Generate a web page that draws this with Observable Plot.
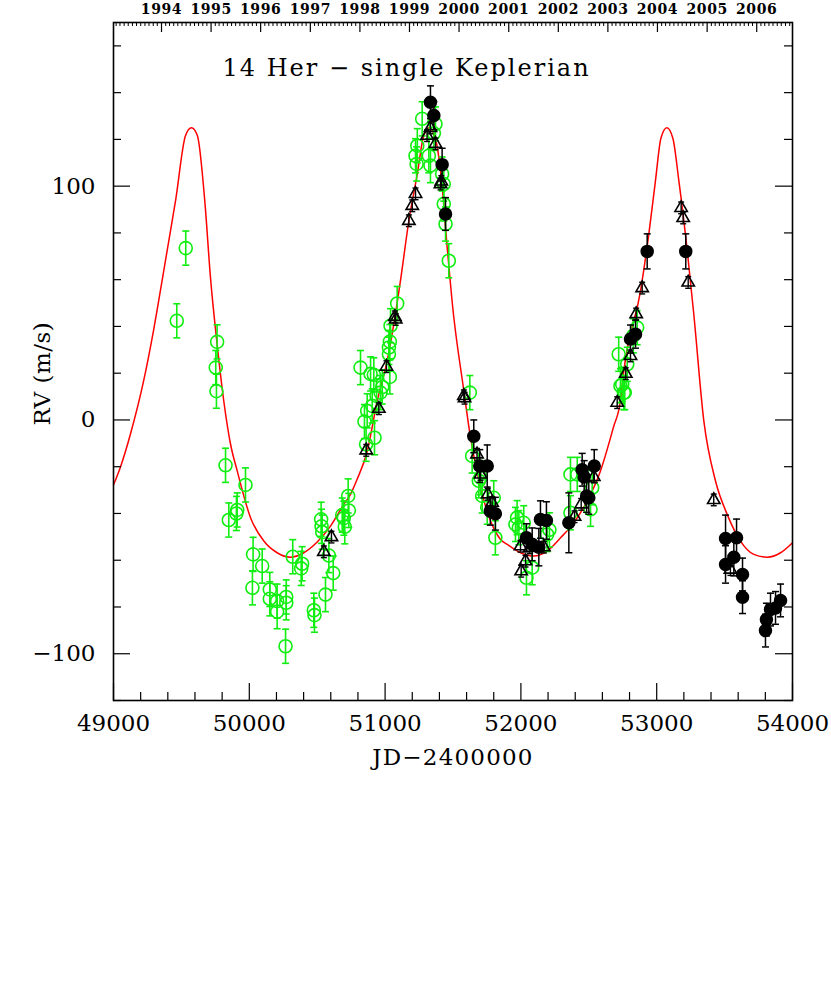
<!DOCTYPE html>
<html><head><meta charset="utf-8">
<script src="https://cdn.jsdelivr.net/npm/d3@7"></script>
<script src="https://cdn.jsdelivr.net/npm/@observablehq/plot@0.6"></script>
<style>body{margin:0;background:#fff}</style>
</head><body><div id="chart"></div>
<script>
// ---- data ----
const greenJD = [49466,49532,49753,49758,49763,49825,49849,49905,49911,49972,50023,50028,50095,50151,50151,50205,50205,50267,50272,50272,50320,50382,50389,50475,50480,50529,50532,50537,50561,50586,50618,50684,50696,50703,50728,50733,50819,50848,50860,50868,50893,50905,50917,50922,50937,50966,50979,51028,51028,51035,51035,51040,51089,51224,51232,51237,51273,51322,51334,51359,51371,51420,51432,51432,51445,51469,51624,51641,51690,51703,51715,51752,51800,51812,51960,51972,51985,52021,52041,52083,52193,52210,52365,52365,52415,52513,52525,52720,52733,52746,52758,52765,52783,52828,52856];
const greenRV = [42.4,73.5,22.4,12.3,33.4,-19.4,-42.8,-40,-38.5,-27.8,-71.8,-57.5,-62.5,-72.5,-76.5,-77.5,-82,-96.8,-75.7,-78.2,-58.5,-63.5,-61.5,-81.4,-83.5,-42.5,-45.5,-48,-74.7,-58,-65.5,-40.7,-42,-45.7,-32.5,-38.7,22.4,-0.7,-10.4,3.9,19.7,6,19.3,-7.6,10.3,11.7,14.1,28.1,31,33.5,18.4,40.3,49.8,113,109.5,117.3,128.8,113,108.8,122.6,126.6,105.2,100.9,92.4,83.8,68.1,11.7,-15.4,-26,-24.7,-32.5,-37.3,-33.3,-50.4,-44.7,-41.8,-46.1,-44,-67.5,-63.2,-49,-47,-23.3,-39.7,-23.3,-38.2,-29,28.1,14.6,15.2,11.7,11.7,23.8,36,39.5];
const greenErr = 7.3;

const triJD = [50549,50605,50861,50954,51010,51072,51078,51175,51200,51224,51309,51334,51371,51408,51414,51580,51585,51677,51703,51756,51788,51997,52002,52034,52066,52169,52395,52444,52537,52709,52772,52807,52849,52893,53180,53195,53232,53420,53543];
const triRV = [-56.4,-50.1,-13,4.8,22.8,44.1,43,85.2,91.6,96.7,121.6,124.9,118.1,100.9,102,10.3,9.3,-14.7,-23.3,-31.8,-35.4,-54,-64.7,-60.4,-54.7,-54.4,-41.4,-36.1,-24.4,7.4,19.8,27.4,45.3,56.4,90.7,86.4,58.8,-34.2,-64];
const triErr = 2.5;

const dotJD = [51334,51359,51420,51445,51653,51697,51752,51775,51812,52041,52083,52132,52144,52188,52353,52451,52466,52484,52500,52540,52807,52844,52930,53214,53507,53588,53568,53507,53632,53632,53801,53808,53838,53875,53912];
const dotRV = [135.9,130.2,109.2,88.1,-7,-19.7,-19.7,-39,-40.1,-50.4,-53.2,-54.4,-42.6,-43,-44,-21.3,-24.4,-32.5,-33.3,-19.7,34.6,36.7,72.1,72.1,-50.7,-50.4,-58.7,-61.8,-66.1,-75.8,-90.1,-85.4,-81.1,-80.4,-77.2];
const dotErr = [7,6,7,7,7,7,9,6,7,6,7,8,8,8,12.8,7,7,7,7,7,6,6,7.5,7.5,10,8,8,8,7,7,7,7,7,7,7];

// Keplerian model curve
const fitJD = [49000,49052,49125,49223,49297,49370,49420,49457,49530,49574,49618,49672,49714,49763,49812,49862,49911,50009,50107,50205,50303,50401,50500,50598,50696,50745,50794,50868,50942,51015,51064,51113,51175,51237,51280,51325,51370,51420,51457,51477,51493,51580,51629,51703,51777,51825,51850,51899,51997,52095,52193,52292,52389,52488,52586,52682,52733,52758,52881,52942,52991,53031,53075,53119,53163,53225,53273,53347,53433,53519,53617,53715,53814,53912,54000];
const fitRV = [-27.8,-20,-6,17,39,63.8,81,93.8,121.6,125,121.6,93.8,61,32.4,8.1,-10.4,-21.8,-41.8,-51.8,-56.8,-58.7,-56.8,-52.2,-45.4,-36.1,-31.8,-25.4,-13.5,8.1,25.3,41,59.5,85.2,105.2,120.5,125,120.5,100,73.8,61,51,12.4,-7.6,-29,-43.3,-49,-51.1,-53.2,-56.8,-58.2,-56.1,-50.4,-44,-34.7,-21.8,-3,8.1,21,55.2,79.5,102.4,120.5,125,120.5,102.4,72.4,45.3,-0.4,-26.1,-40.4,-51.8,-57.5,-58.7,-56.8,-52.5];

const xMajor = [49000,50000,51000,52000,53000,54000];
const yMajor = [-100,0,100];
const years = ["1994","1995","1996","1997","1998","1999","2000","2001","2002","2003","2004","2005","2006"];
const yearJD = [49353.5,49718.5,50083.5,50449.5,50814.5,51179.5,51544.5,51910.5,52275.5,52640.5,53005.5,53371.5,53736.5];
const titleText = "14 Her \u2212 single Keplerian";
const xTitle = "JD\u22122400000";
const yTitle = "RV (m/s)";

// ---- build ----
const green = greenJD.map((x,i)=>({x, y: greenRV[i], e: greenErr}));
const tri = triJD.map((x,i)=>({x, y: triRV[i], e: triErr}));
const dots = dotJD.map((x,i)=>({x, y: dotRV[i], e: dotErr[i]}));
const fit = fitJD.map((x,i)=>({x, y: fitRV[i]}));

const xMinor = d3.range(49000, 54001, 200).filter(v => !xMajor.includes(v));
const yMinor = d3.range(-120, 171, 20).filter(v => !yMajor.includes(v));
const monthTicks = [];
for (let yr = 1993; yr <= 2007; yr++) for (let m = 1; m < 12; m++) {
  const jd = Date.UTC(yr, m, 1) / 86400000 + 40587.5;
  if (jd > 49000 && jd < 54000) monthTicks.push(jd);
}

const W = 831, H = 990, mL = 113, mR = 39, mT = 22, mB = 290;
const fw = W - mL - mR, fh = H - mT - mB;
const GREEN = "#10ee10";
const cap = (w) => ({draw(ctx){ ctx.moveTo(-w,0); ctx.lineTo(w,0); }});
const minus = d => d < 0 ? "\u2212" + Math.abs(d) : String(d);

const errMarks = (data, color, w, sw) => [
  Plot.ruleX(data, {x:"x", y1: d=>d.y-d.e, y2: d=>d.y+d.e, stroke: color, strokeWidth: sw}),
  Plot.dot(data, {x:"x", y: d=>d.y+d.e, symbol: cap(w), r: 3, stroke: color, fill: "none", strokeWidth: sw}),
  Plot.dot(data, {x:"x", y: d=>d.y-d.e, symbol: cap(w), r: 3, stroke: color, fill: "none", strokeWidth: sw})
];

const chart = Plot.plot({
  width: W, height: H,
  marginLeft: mL, marginRight: mR, marginTop: mT, marginBottom: mB,
  x: {domain: [49000, 54000]},
  y: {domain: [-120, 170]},
  style: {fontFamily: "DejaVu Serif", background: "white", color: "black"},
  marks: [
    Plot.line(fit, {x:"x", y:"y", stroke: "red", strokeWidth: 1.5, curve: "monotone-x"}),
    ...errMarks(green, GREEN, 3.5, 1.6),
    Plot.dot(green, {x:"x", y:"y", r: 6.5, stroke: GREEN, strokeWidth: 1.6, fill: "none"}),
    ...errMarks(tri, "black", 3, 1.4),
    Plot.dot(tri, {x:"x", y:"y", symbol: "triangle", r: 4.6, stroke: "black", strokeWidth: 1.6, fill: "none"}),
    ...errMarks(dots, "black", 3.5, 1.5),
    Plot.dot(dots, {x:"x", y:"y", r: 6, fill: "black", stroke: "black"}),
    // ticks (inward)
    Plot.tickX(xMinor, {x: d=>d, insetTop: fh - 8, stroke: "black", strokeWidth: 1.2}),
    Plot.tickX(xMajor, {x: d=>d, insetTop: fh - 17, stroke: "black", strokeWidth: 1.2}),
    Plot.tickY(yMinor, {y: d=>d, insetRight: fw - 8, stroke: "black", strokeWidth: 1.2}),
    Plot.tickY(yMajor, {y: d=>d, insetRight: fw - 17, stroke: "black", strokeWidth: 1.2}),
    Plot.tickY(yMinor, {y: d=>d, insetLeft: fw - 8, stroke: "black", strokeWidth: 1.2}),
    Plot.tickY(yMajor, {y: d=>d, insetLeft: fw - 17, stroke: "black", strokeWidth: 1.2}),
    Plot.tickX(monthTicks, {x: d=>d, insetBottom: fh - 4, stroke: "black", strokeWidth: 1}),
    Plot.tickX(yearJD, {x: d=>d, insetBottom: fh - 10, stroke: "black", strokeWidth: 1.2}),
    Plot.frame({stroke: "black", strokeWidth: 1.6}),
    Plot.axisX(xMajor, {tickSize: 0, tickPadding: 14, tickFormat: d => String(d), fontSize: 23, label: null}),
    Plot.axisY(yMajor, {tickSize: 0, tickPadding: 18, tickFormat: minus, fontSize: 23, label: null}),
    Plot.text(years, {x: yearJD, text: d=>d, frameAnchor: "top", dy: -12.5, fontSize: 14, fontWeight: "bold", lineAnchor: "middle"}),
    Plot.text([titleText], {frameAnchor: "top-left", dx: 109, dy: 46, textAnchor: "start", lineAnchor: "middle", fontSize: 24}),
    Plot.text([xTitle], {frameAnchor: "bottom", dy: 57, lineAnchor: "middle", fontSize: 23}),
    Plot.text([yTitle], {frameAnchor: "left", rotate: -90, dx: -71, dy: 64, lineAnchor: "middle", fontSize: 23})
  ]
});
d3.select(chart).selectAll("text").each(function() {
  const t = this.textContent;
  if (t === titleText) this.style.letterSpacing = "2px";
  if (t === xTitle) this.style.letterSpacing = "1.2px";
  if (t === yTitle) this.style.letterSpacing = "0.5px";
  if (years.includes(t)) this.style.letterSpacing = "0.6px";
});
document.getElementById("chart").append(chart);
</script>
</body></html>
